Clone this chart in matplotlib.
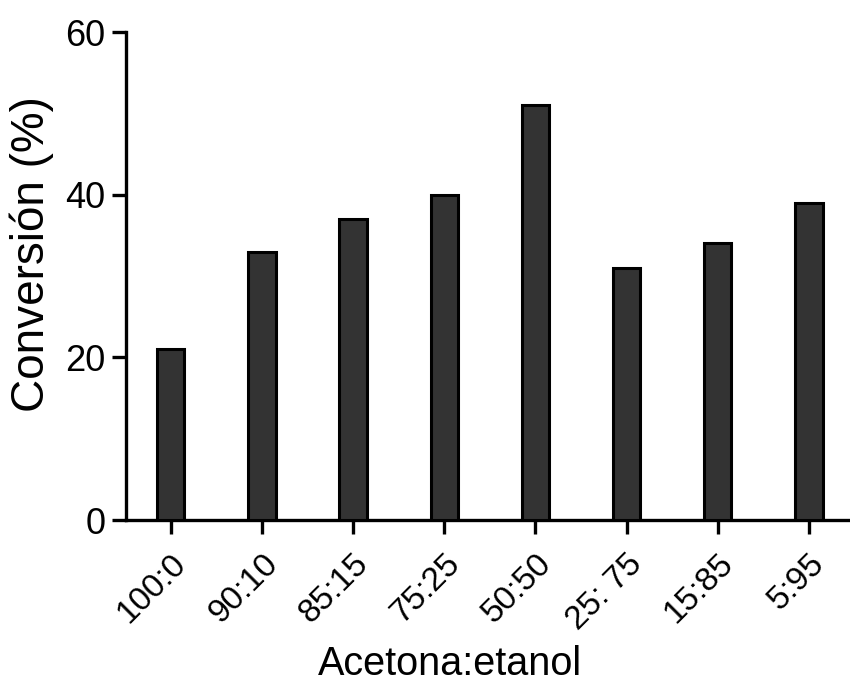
import matplotlib
matplotlib.use("Agg")
import matplotlib.pyplot as plt
import matplotlib.transforms as mtransforms

categories = ["100:0", "90:10", "85:15", "75:25", "50:50", "25: 75", "15:85", "5:95"]
values = [21, 33, 37, 40, 51, 31, 34, 39]
yticks = [0, 20, 40, 60]

plt.rcParams['font.family'] = ['Liberation Sans', 'DejaVu Sans']

fig = plt.figure(figsize=(8.5, 6.89), dpi=100)
ax = fig.add_axes([126/850, 1 - 520/689, 1 - 126/850, (520 - 32)/689])

x = list(range(len(categories)))
ax.bar(x, values, width=0.3, color="#333333", edgecolor="black", linewidth=2.2, zorder=3)

ax.set_xlim(-0.49, 7.45)
ax.set_ylim(0, 60)
ax.set_yticks(yticks)
ax.set_xticks(x)
ax.set_xticklabels(categories, rotation=45, ha="right", va="top", rotation_mode="anchor")

for s in ["top", "right"]:
    ax.spines[s].set_visible(False)
for s in ["left", "bottom"]:
    ax.spines[s].set_linewidth(2.4)

ax.tick_params(axis="both", length=10, width=2.4, labelsize=26, pad=5, colors="black")
ax.tick_params(axis="x", pad=10.5, labelsize=24)

offset = mtransforms.ScaledTranslation(0/100, 0, fig.dpi_scale_trans)
for lbl in ax.get_xticklabels():
    lbl.set_transform(lbl.get_transform() + offset)

ax.set_xlabel("Acetona:etanol", fontsize=28.5)
ax.set_ylabel("Conversión (%)", fontsize=33)
ax.xaxis.set_label_coords((450 - 126) / (850 - 126), -(664 - 520) / 488, transform=ax.transAxes)
ax.yaxis.set_label_coords(-(126 - 32) / 724, (520 - 254) / 488)
ax.xaxis.label.set_va("center")
ax.yaxis.label.set_va("center")

fig.savefig("out.png", dpi=100)
